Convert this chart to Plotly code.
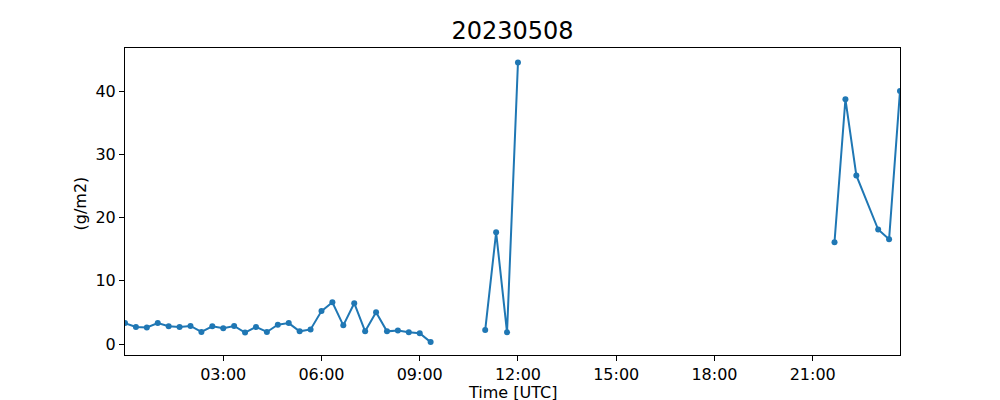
import plotly.graph_objects as go

# Times (UTC, 2023-05-08) and values (g/m2); None marks gaps in the series
times = [
    "00:00", "00:20", "00:40", "01:00", "01:20", "01:40", "02:00", "02:20", "02:40", "03:00",
    "03:20", "03:40", "04:00", "04:20", "04:40", "05:00", "05:20", "05:40", "06:00", "06:20",
    "06:40", "07:00", "07:20", "07:40", "08:00", "08:20", "08:40", "09:00", "09:20",
    "10:00",
    "11:00", "11:20", "11:40", "12:00",
    "17:00",
    "21:40", "22:00", "22:20", "23:00", "23:20", "23:40",
]
values = [
    3.3, 2.7, 2.6, 3.3, 2.8, 2.7, 2.85, 1.9, 2.8, 2.5,
    2.85, 1.8, 2.7, 1.9, 3.05, 3.3, 2.0, 2.3, 5.2, 6.6,
    2.95, 6.45, 2.0, 5.0, 2.0, 2.15, 1.85, 1.7, 0.3,
    None,
    2.2, 17.65, 1.85, 44.5,
    None,
    16.1, 38.7, 26.65, 18.1, 16.55, 40.0,
]
day = "2023-05-08"
x_vals = [f"{day} {t}" for t in times]

y_ticks = [0, 10, 20, 30, 40]
x_ticks = ["03:00", "06:00", "09:00", "12:00", "15:00", "18:00", "21:00"]

fig = go.Figure()
fig.add_trace(go.Scatter(
    x=x_vals, y=values, mode="lines+markers",
    line=dict(color="#1f77b4", width=2),
    marker=dict(color="#1f77b4", size=6),
    connectgaps=False, showlegend=False, cliponaxis=True,
))

# The page body adds an 8px offset; margins compensate so the plot area sits at x 125-900, y 48-355
font = "DejaVu Sans, Liberation Sans, sans-serif"
fig.update_layout(
    width=1000, height=400,
    margin=dict(l=117, r=108, t=40, b=53, autoexpand=False),
    paper_bgcolor="white", plot_bgcolor="white",
    font=dict(family=font, size=16, color="black"),
    title=dict(text="20230508", x=(512.5 - 8) / 1000, xanchor="center",
               y=1 - (31 - 8) / 400, yanchor="middle",
               font=dict(size=24, color="black")),
    annotations=[
        dict(text="Time [UTC]", xref="paper", yref="paper", x=0.5, y=-0.121,
             xanchor="center", yanchor="middle", showarrow=False, borderpad=0,
             font=dict(size=16, color="black")),
        dict(text="(g/m2)", xref="paper", yref="paper", x=-0.0574, y=0.492,
             xanchor="center", yanchor="middle", textangle=-90, showarrow=False,
             font=dict(size=16, color="black")),
    ],
)
fig.update_xaxes(
    type="date", automargin=False,
    range=[f"{day} 00:00", f"{day} 23:40"],
    tickvals=[f"{day} {t}" for t in x_ticks], ticktext=x_ticks,
    showline=True, linecolor="black", linewidth=1, mirror=True,
    ticks="outside", ticklen=5, tickcolor="black", showgrid=False, zeroline=False,
    tickfont=dict(size=16),
)
fig.update_yaxes(
    range=[-1.74, 46.8], automargin=False,
    tickvals=y_ticks,
    showline=True, linecolor="black", linewidth=1, mirror=True,
    ticks="outside", ticklen=5, tickcolor="black", showgrid=False, zeroline=False,
    tickfont=dict(size=16),
)

fig.write_html("out.html")
